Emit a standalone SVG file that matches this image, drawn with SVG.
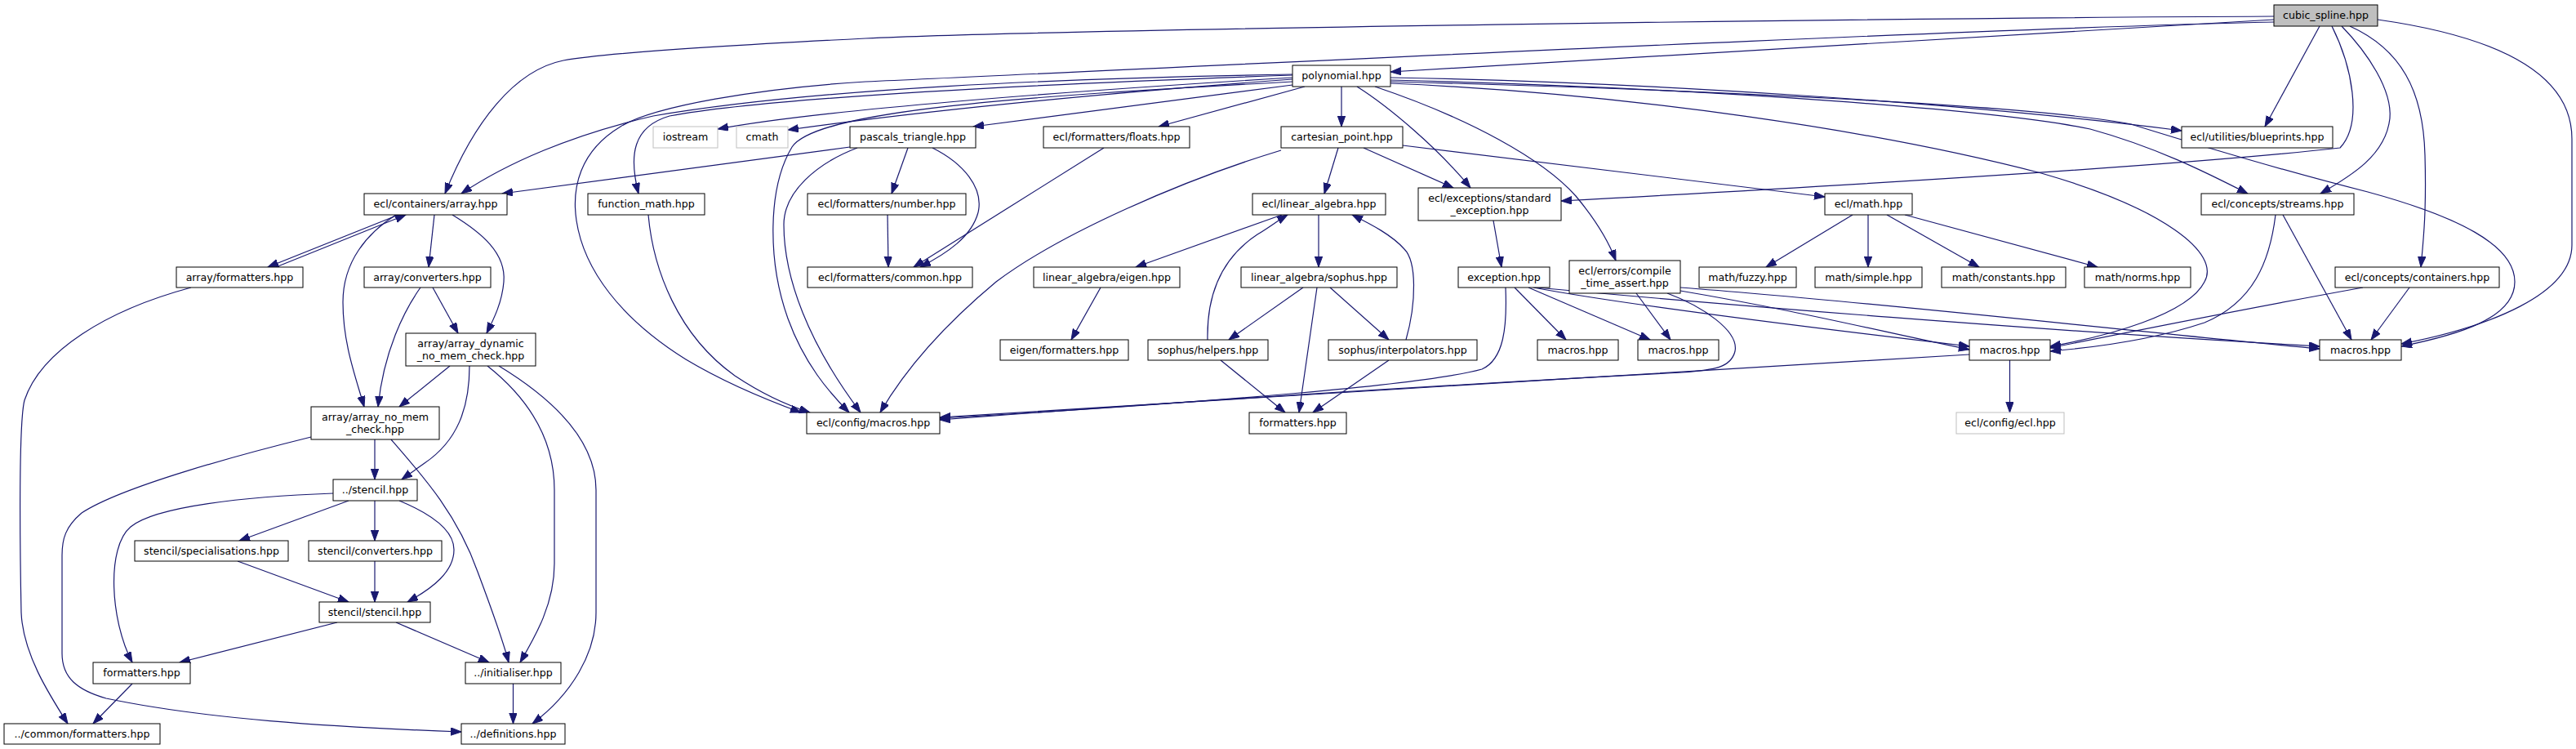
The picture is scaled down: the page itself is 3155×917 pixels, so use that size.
<svg xmlns="http://www.w3.org/2000/svg" width="3155" height="917" viewBox="0 0 3155 917">
<style>
.n rect{fill:#fff;stroke:#000;stroke-width:1}
.n.g rect{stroke:#bfbfbf}
.n.r rect{fill:#bfbfbf}
.n text{font-family:"DejaVu Sans",sans-serif;font-size:12.6px;text-anchor:middle;fill:#000}
#edges path{fill:none;stroke:#191970;stroke-width:1.2;marker-end:url(#ah)}
</style>
<defs>
<marker id="ah" markerWidth="14" markerHeight="10" refX="13" refY="4.7" orient="auto" markerUnits="userSpaceOnUse"><path d="M0,0 L13,4.7 L0,9.4 z" fill="#191970" stroke="#191970" stroke-width="1"/></marker>
</defs>
<rect width="3155" height="917" fill="#fff"/>
<g id="edges">
<path d="M2785,24 L1703,88"/>
<path d="M2785,20 C2300,22 1300,36 1060,47 C900,55 740,65 690,74 C630,86 580,150 545,237"/>
<path d="M2785,27 C2400,35 1400,85 1060,100 C930,108 800,130 760,155 C710,185 700,230 706,270 C715,330 760,390 840,440 C890,470 940,490 981,505"/>
<path d="M2841,32 L2774,155"/>
<path d="M2856,32 C2880,80 2895,150 2866,181 C2700,200 2300,225 1912,246"/>
<path d="M2868,32 C2900,65 2930,110 2927,145 C2922,190 2880,215 2842,237"/>
<path d="M2878,32 C2940,60 2968,110 2970,190 C2972,260 2968,295 2965,327"/>
<path d="M2912,24 C3060,45 3150,90 3150,170 L3150,300 C3150,360 3050,400 2941,421"/>
<path d="M1643,106 L1643,155"/>
<path d="M1662,106 C1700,130 1760,180 1801,230"/>
<path d="M1684,106 C1800,145 1890,195 1930,240 C1955,270 1970,295 1979,319"/>
<path d="M1583,104 L1192,155"/>
<path d="M1598,106 L1419,155"/>
<path d="M1583,95 C1300,112 1000,135 879,158"/>
<path d="M1583,97 C1300,118 1100,140 965,159"/>
<path d="M1583,92 C1300,102 950,118 820,142 C775,155 770,190 782,237"/>
<path d="M1583,91 C1300,96 1000,108 800,142 C700,165 620,200 565,237"/>
<path d="M1583,100 C1250,118 1000,135 970,180 C940,230 940,320 965,390 C985,445 1015,480 1040,505"/>
<path d="M1703,95 C2000,100 2400,125 2672,160"/>
<path d="M1703,98 C2100,108 2450,135 2560,158 C2640,180 2700,210 2753,237"/>
<path d="M1703,100 C2100,110 2500,130 2610,152 C2700,180 2800,210 2900,235 C3010,265 3080,300 3080,345 C3080,390 3010,410 2941,424"/>
<path d="M1703,102 C2000,115 2300,160 2500,212 C2650,255 2720,310 2700,345 C2680,385 2580,412 2511,424"/>
<path d="M1041,180 L615,237"/>
<path d="M1112,181 L1092,237"/>
<path d="M1142,181 C1180,200 1205,230 1198,260 C1190,290 1160,310 1127,327"/>
<path d="M1050,181 C1000,200 960,235 960,275 C960,340 990,420 1054,505"/>
<path d="M1639,181 L1622,237"/>
<path d="M1670,181 L1780,230"/>
<path d="M1718,178 L2235,241"/>
<path d="M1569,184 C1450,220 1300,285 1220,345 C1160,395 1110,450 1078,505"/>
<path d="M1829,270 L1839,327"/>
<path d="M1855,352 L1918,416"/>
<path d="M1872,352 L2021,416"/>
<path d="M1878,352 C2000,375 2250,405 2412,424"/>
<path d="M1882,352 C2100,372 2500,405 2841,424"/>
<path d="M1844,352 C1846,400 1842,440 1815,452 C1750,470 1500,492 1151,512"/>
<path d="M2004,359 L2046,416"/>
<path d="M2058,356 C2200,380 2300,405 2412,428"/>
<path d="M2058,352 C2300,370 2600,405 2841,427"/>
<path d="M2042,359 C2085,375 2130,405 2125,430 C2120,450 2100,453 2060,456 C1700,475 1400,495 1151,514"/>
<path d="M2461.5,441 L2461.5,505"/>
<path d="M2412,434 C2000,458 1500,490 1151,511"/>
<path d="M2796,263 L2880,416"/>
<path d="M2787,263 C2780,320 2760,370 2700,395 C2640,415 2570,425 2511,430"/>
<path d="M2951,352 L2904,416"/>
<path d="M2894,352 C2750,378 2600,408 2511,426"/>
<path d="M2269,263 L2163,327"/>
<path d="M2288,263 L2288,327"/>
<path d="M2311,263 L2424,327"/>
<path d="M2333,263 L2569,327"/>
<path d="M1570,263 L1391,327"/>
<path d="M1615,263 L1615,327"/>
<path d="M1479,416 C1478,370 1490,320 1540,287 C1555,278 1565,270 1577,263"/>
<path d="M1722,416 C1735,370 1735,320 1720,305 C1705,288 1680,275 1656,263"/>
<path d="M1596,352 L1505,416"/>
<path d="M1613,352 L1591,505"/>
<path d="M1629,352 L1701,416"/>
<path d="M1348,352 L1312,416"/>
<path d="M1495,441 L1574,505"/>
<path d="M1701,441 L1608,505"/>
<path d="M1087,263 L1088,327"/>
<path d="M1352,181 L1119,327"/>
<path d="M794,263 C800,330 830,410 900,460 C930,480 960,495 992,505"/>
<path d="M532,263 L525,327"/>
<path d="M488,263 L328,327"/>
<path d="M338,327 L497,263"/>
<path d="M554,263 C590,285 620,310 617,345 C615,370 605,390 596,408"/>
<path d="M485,263 C450,285 420,320 420,370 C420,420 435,460 446,498"/>
<path d="M234,352 C130,380 50,430 30,490 C22,520 25,700 26,750 C28,800 60,850 83,886"/>
<path d="M530,352 L561,408"/>
<path d="M515,352 C495,380 470,430 463,498"/>
<path d="M551,448 L489,498"/>
<path d="M575,448 C575,500 560,540 520,567 L492,587"/>
<path d="M597,448 C650,490 679,540 679,600 L679,690 C679,740 655,780 637,811"/>
<path d="M611,448 C680,490 730,540 730,600 L730,750 C730,800 700,850 652,886"/>
<path d="M459,538 L459,587"/>
<path d="M479,538 C520,585 560,630 585,700 C600,740 615,780 623,811"/>
<path d="M381,535 C300,555 150,595 100,628 C80,645 76,660 76,680 L76,800 C76,830 95,845 130,855 C250,880 400,890 565,896"/>
<path d="M427,613 L293,662"/>
<path d="M459,613 L459,662"/>
<path d="M489,613 C530,630 556,650 556,673 C556,700 530,720 499,737"/>
<path d="M408,604 C300,608 190,620 160,645 C130,670 135,760 162,811"/>
<path d="M291,687 L427,737"/>
<path d="M459,687 L459,737"/>
<path d="M413,762 L220,811"/>
<path d="M485,762 L599,811"/>
<path d="M162,837 L114,886"/>
<path d="M628.5,837 L628.5,886"/>
</g>
<g id="n_cubic" class="n r"><rect x="2785" y="6" width="127" height="26"/><text x="2848.5" y="23.4">cubic_spline.hpp</text></g>
<g id="n_poly" class="n"><rect x="1583" y="80" width="120" height="26"/><text x="1643" y="97.4">polynomial.hpp</text></g>
<g id="n_array" class="n"><rect x="446" y="237" width="175" height="26"/><text x="533.5" y="254.4">ecl/containers/array.hpp</text></g>
<g id="n_iostream" class="n g"><rect x="800" y="155" width="79" height="26"/><text x="839.5" y="172.4">iostream</text></g>
<g id="n_cmath" class="n g"><rect x="902" y="155" width="63" height="26"/><text x="933.5" y="172.4">cmath</text></g>
<g id="n_pascals" class="n"><rect x="1041" y="155" width="154" height="26"/><text x="1118" y="172.4">pascals_triangle.hpp</text></g>
<g id="n_floats" class="n"><rect x="1278" y="155" width="179" height="26"/><text x="1367.5" y="172.4">ecl/formatters/floats.hpp</text></g>
<g id="n_cartesian" class="n"><rect x="1569" y="155" width="149" height="26"/><text x="1643.5" y="172.4">cartesian_point.hpp</text></g>
<g id="n_stdexc" class="n"><rect x="1737" y="230" width="175" height="40"/><text x="1824.5" y="246.5">ecl/exceptions/standard</text><text x="1824.5" y="261.5">_exception.hpp</text></g>
<g id="n_blueprints" class="n"><rect x="2672" y="155" width="185" height="26"/><text x="2764.5" y="172.4">ecl/utilities/blueprints.hpp</text></g>
<g id="n_function_math" class="n"><rect x="720" y="237" width="143" height="26"/><text x="791.5" y="254.4">function_math.hpp</text></g>
<g id="n_number" class="n"><rect x="989" y="237" width="194" height="26"/><text x="1086" y="254.4">ecl/formatters/number.hpp</text></g>
<g id="n_linalg" class="n"><rect x="1534" y="237" width="163" height="26"/><text x="1615.5" y="254.4">ecl/linear_algebra.hpp</text></g>
<g id="n_math" class="n"><rect x="2235" y="237" width="107" height="26"/><text x="2288.5" y="254.4">ecl/math.hpp</text></g>
<g id="n_streams" class="n"><rect x="2696" y="237" width="187" height="26"/><text x="2789.5" y="254.4">ecl/concepts/streams.hpp</text></g>
<g id="n_arrfmt" class="n"><rect x="216" y="327" width="155" height="25"/><text x="293.5" y="344">array/formatters.hpp</text></g>
<g id="n_arrconv" class="n"><rect x="446" y="327" width="155" height="25"/><text x="523.5" y="344">array/converters.hpp</text></g>
<g id="n_common" class="n"><rect x="989" y="327" width="202" height="25"/><text x="1090" y="344">ecl/formatters/common.hpp</text></g>
<g id="n_eigen" class="n"><rect x="1266" y="327" width="179" height="25"/><text x="1355.5" y="344">linear_algebra/eigen.hpp</text></g>
<g id="n_sophus" class="n"><rect x="1520" y="327" width="191" height="25"/><text x="1615.5" y="344">linear_algebra/sophus.hpp</text></g>
<g id="n_exception" class="n"><rect x="1786" y="327" width="112" height="25"/><text x="1842" y="344">exception.hpp</text></g>
<g id="n_compile" class="n"><rect x="1922" y="319" width="136" height="40"/><text x="1990" y="335.5">ecl/errors/compile</text><text x="1990" y="350.5">_time_assert.hpp</text></g>
<g id="n_fuzzy" class="n"><rect x="2081" y="327" width="119" height="25"/><text x="2140.5" y="344">math/fuzzy.hpp</text></g>
<g id="n_simple" class="n"><rect x="2223" y="327" width="131" height="25"/><text x="2288.5" y="344">math/simple.hpp</text></g>
<g id="n_constants" class="n"><rect x="2378" y="327" width="152" height="25"/><text x="2454" y="344">math/constants.hpp</text></g>
<g id="n_norms" class="n"><rect x="2553" y="327" width="130" height="25"/><text x="2618" y="344">math/norms.hpp</text></g>
<g id="n_containers" class="n"><rect x="2860" y="327" width="201" height="25"/><text x="2960.5" y="344">ecl/concepts/containers.hpp</text></g>
<g id="n_dyn" class="n"><rect x="497" y="408" width="159" height="40"/><text x="576.5" y="424.5">array/array_dynamic</text><text x="576.5" y="439.5">_no_mem_check.hpp</text></g>
<g id="n_eigenfmt" class="n"><rect x="1225" y="416" width="157" height="25"/><text x="1303.5" y="433">eigen/formatters.hpp</text></g>
<g id="n_helpers" class="n"><rect x="1406" y="416" width="147" height="25"/><text x="1479.5" y="433">sophus/helpers.hpp</text></g>
<g id="n_interp" class="n"><rect x="1627" y="416" width="182" height="25"/><text x="1718" y="433">sophus/interpolators.hpp</text></g>
<g id="n_macrosA" class="n"><rect x="1883" y="416" width="99" height="25"/><text x="1932.5" y="433">macros.hpp</text></g>
<g id="n_macrosB" class="n"><rect x="2006" y="416" width="99" height="25"/><text x="2055.5" y="433">macros.hpp</text></g>
<g id="n_macrosC" class="n"><rect x="2412" y="416" width="99" height="25"/><text x="2461.5" y="433">macros.hpp</text></g>
<g id="n_macrosD" class="n"><rect x="2841" y="416" width="100" height="25"/><text x="2891" y="433">macros.hpp</text></g>
<g id="n_nomem" class="n"><rect x="381" y="498" width="157" height="40"/><text x="459.5" y="514.5">array/array_no_mem</text><text x="459.5" y="529.5">_check.hpp</text></g>
<g id="n_cfgmacros" class="n"><rect x="988" y="505" width="163" height="26"/><text x="1069.5" y="522">ecl/config/macros.hpp</text></g>
<g id="n_sophusfmt" class="n"><rect x="1530" y="505" width="119" height="26"/><text x="1589.5" y="522">formatters.hpp</text></g>
<g id="n_eclhpp" class="n g"><rect x="2396" y="505" width="132" height="26"/><text x="2462" y="522">ecl/config/ecl.hpp</text></g>
<g id="n_stencil" class="n"><rect x="408" y="587" width="103" height="26"/><text x="459.5" y="604">../stencil.hpp</text></g>
<g id="n_spec" class="n"><rect x="165" y="662" width="188" height="25"/><text x="259" y="679">stencil/specialisations.hpp</text></g>
<g id="n_stconv" class="n"><rect x="378" y="662" width="163" height="25"/><text x="459.5" y="679">stencil/converters.hpp</text></g>
<g id="n_ststencil" class="n"><rect x="391" y="737" width="136" height="25"/><text x="459" y="754">stencil/stencil.hpp</text></g>
<g id="n_stfmt" class="n"><rect x="114" y="811" width="119" height="26"/><text x="173.5" y="828">formatters.hpp</text></g>
<g id="n_init" class="n"><rect x="570" y="811" width="117" height="26"/><text x="628.5" y="828">../initialiser.hpp</text></g>
<g id="n_commonfmt" class="n"><rect x="5" y="886" width="191" height="25"/><text x="100.5" y="903">../common/formatters.hpp</text></g>
<g id="n_defs" class="n"><rect x="565" y="886" width="127" height="25"/><text x="628.5" y="903">../definitions.hpp</text></g>
</svg>
